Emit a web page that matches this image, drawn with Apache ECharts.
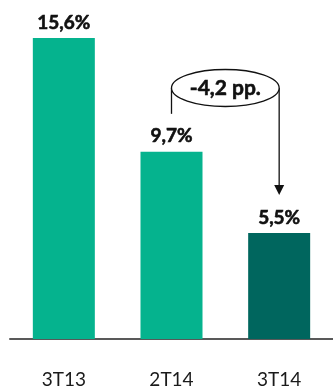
<!DOCTYPE html>
<html>
<head>
<meta charset="utf-8">
<style>
  html, body { margin: 0; padding: 0; background: #ffffff; }
  #chart { width: 333px; height: 389px; }
</style>
<script src="https://cdn.jsdelivr.net/npm/echarts@6/dist/echarts.min.js"></script>
</head>
<body>
<div id="chart"></div>
<script>
// Quarterly rate, in percent
const categories = ['3T13', '2T14', '3T14'];
const values = [15.6, 9.7, 5.5];
const barColors = ['#05B38E', '#05B38E', '#00665E'];
const changeLabel = '-4,2 pp.';

const fontFamily = 'Lato, "Open Sans", "Liberation Sans", sans-serif';

const chart = echarts.init(document.getElementById('chart'), null, { renderer: 'canvas' });

function fmt(v) {
  return v.toFixed(1).replace('.', ',') + '%';
}

chart.setOption({
  animation: false,
  grid: { left: 10, right: -4, top: 38, bottom: 46, containLabel: false },
  xAxis: {
    type: 'category',
    data: categories,
    axisLine: { lineStyle: { color: '#595959', width: 2 } },
    axisTick: { show: false },
    axisLabel: {
      color: '#1a1a1a',
      fontFamily: fontFamily,
      fontSize: 19,
      margin: 31
    }
  },
  yAxis: {
    type: 'value',
    min: 0,
    max: 15.6,
    show: false,
    splitLine: { show: false }
  },
  series: [{
    type: 'bar',
    barWidth: 62,
    data: values.map((v, i) => ({ value: v, itemStyle: { color: barColors[i] } })),
    label: {
      show: true,
      position: 'top',
      distance: 6,
      color: '#111111',
      fontFamily: fontFamily,
      fontWeight: 'bold',
      fontSize: 19,
      textBorderColor: '#111111',
      textBorderWidth: 0.6,
      formatter: p => fmt(p.value)
    }
  }]
});

// Bracket annotation showing the change between the last two quarters
function drawChange() {
  const a = chart.convertToPixel({ seriesIndex: 0 }, [1, values[1]]);
  const b = chart.convertToPixel({ seriesIndex: 0 }, [2, values[2]]);
  const top = chart.convertToPixel({ seriesIndex: 0 }, [0, values[0]]);
  const cx = (a[0] + b[0]) / 2;
  const rx = (b[0] - a[0]) / 2;
  const cy = top[1] + 50;
  const gap = 38;
  const stroke = { stroke: '#111111', lineWidth: 1.3, fill: null };
  chart.setOption({
    graphic: [
      { type: 'line', shape: { x1: a[0], y1: cy, x2: a[0], y2: a[1] - gap }, style: stroke },
      { type: 'line', shape: { x1: b[0], y1: cy, x2: b[0], y2: b[1] - gap - 9 }, style: stroke },
      {
        type: 'polygon',
        shape: { points: [[b[0] - 5, b[1] - gap - 10], [b[0] + 5, b[1] - gap - 10], [b[0], b[1] - gap]] },
        style: { fill: '#111111' }
      },
      {
        type: 'ellipse',
        shape: { cx: cx, cy: cy, rx: rx, ry: 18.5 },
        style: { stroke: '#111111', lineWidth: 1.3, fill: '#ffffff' },
        textContent: {
          style: {
            text: changeLabel,
            fontFamily: fontFamily,
            fontWeight: 'bold',
            fontSize: 21,
            fill: '#111111',
            stroke: '#111111',
            lineWidth: 0.6
          }
        },
        textConfig: { position: 'inside' }
      }
    ]
  });
}
drawChange();
</script>
</body>
</html>
